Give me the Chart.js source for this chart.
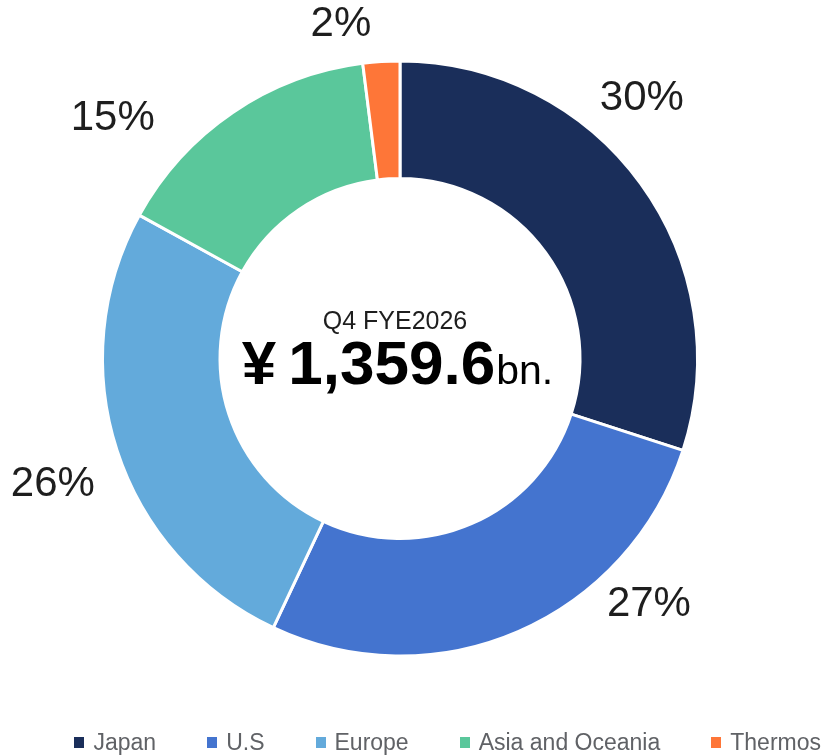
<html>
   <head>
      <script src="https://cdn.jsdelivr.net/npm/chart.js@4.4.0/dist/chart.umd.min.js"></script>
   </head>
   <style>
      html,
      body {
         margin: 0;
         background: #fff;
         font-family: "Liberation Sans", Arial, sans-serif;
      }

      .wrapper {
         position: relative;
         width: 825px;
         height: 755px;
      }

      #legend {
         position: absolute;
         right: 4px;
         top: 729px;
         display: flex;
         align-items: center;
         font-size: 23px;
         color: #606266;
         white-space: nowrap;
      }

      #legend .item {
         display: flex;
         align-items: center;
         margin-left: 51px;
      }

      #legend .item:first-child {
         margin-left: 0;
      }

      #legend .box {
         width: 10px;
         height: 11px;
         margin-right: 9px;
      }
   </style>

   <body>
      <div class="wrapper">
         <canvas id="myChart" width="825" height="755"></canvas>
         <div id="legend"></div>
      </div>
   </body>
   <script>
      // data
      const regions = ["Japan", "U.S", "Europe", "Asia and Oceania", "Thermos"];
      const shares = [30, 27, 26, 15, 2];
      const colors = ["#1a2e5a", "#4474cf", "#63aadb", "#5ac79b", "#fe7638"];
      const periodLabel = "Q4 FYE2026";
      const totalValue = "1,359.6";

      // where each % label sits: bearing from 12 o'clock (deg), distance from centre (px)
      const labelSpots = [
         [42.8, 356],
         [134.5, 349],
         [250.2, 369],
         [310, 375],
         [350, 340],
      ];

      const pctLabels = {
         id: "pctLabels",
         afterDraw(chart) {
            const ctx = chart.ctx;
            const a = chart.chartArea;
            const cx = (a.left + a.right) / 2;
            const cy = (a.top + a.bottom) / 2;
            ctx.save();
            ctx.fillStyle = "#1e1e1e";
            ctx.font = "42px 'Liberation Sans', Arial, sans-serif";
            ctx.textAlign = "center";
            ctx.textBaseline = "middle";
            chart.getDatasetMeta(0).data.forEach((arc, i) => {
               const ang = (labelSpots[i][0] * Math.PI) / 180;
               const d = labelSpots[i][1];
               ctx.fillText(shares[i] + "%", cx + Math.sin(ang) * d, cy - Math.cos(ang) * d + 1);
            });

            // centre text
            ctx.textBaseline = "alphabetic";
            ctx.font = "25px 'Liberation Sans', Arial, sans-serif";
            ctx.fillText(periodLabel, cx - 5, cy - 30);

            const bigFont = "bold 62px 'Liberation Sans', Arial, sans-serif";
            const smallFont = "41px 'Liberation Sans', Arial, sans-serif";
            ctx.font = bigFont;
            const wYen = ctx.measureText("¥").width;
            const wNum = ctx.measureText(totalValue).width;
            ctx.font = smallFont;
            const wBn = ctx.measureText("bn.").width;
            const gap = 12;
            let x = cx - 3 - (wYen + gap + wNum + wBn) / 2;
            ctx.textAlign = "left";
            ctx.font = bigFont;
            ctx.fillStyle = "#000";
            ctx.fillText("¥", x, cy + 25);
            x += wYen + gap;
            ctx.fillText(totalValue, x, cy + 25);
            x += wNum + 1;
            ctx.font = smallFont;
            ctx.fillText("bn.", x, cy + 25);
            ctx.restore();
         },
      };

      const config = {
         type: "doughnut",
         data: {
            labels: regions,
            datasets: [
               {
                  data: shares,
                  backgroundColor: colors,
                  borderColor: "#fff",
                  borderWidth: 3,
               },
            ],
         },
         options: {
            responsive: false,
            animation: false,
            cutout: "60.5%",
            layout: {
               padding: { left: 101, right: 126, top: 58, bottom: 96 },
            },
            plugins: {
               legend: { display: false },
               tooltip: { enabled: false },
            },
         },
         plugins: [pctLabels],
      };

      const myChart = new Chart(document.getElementById("myChart"), config);

      // html legend from the same arrays
      const legendEl = document.getElementById("legend");
      regions.forEach((r, i) => {
         const item = document.createElement("div");
         item.className = "item";
         const box = document.createElement("span");
         box.className = "box";
         box.style.background = colors[i];
         const txt = document.createElement("span");
         txt.textContent = r;
         item.appendChild(box);
         item.appendChild(txt);
         legendEl.appendChild(item);
      });
   </script>
</html>
